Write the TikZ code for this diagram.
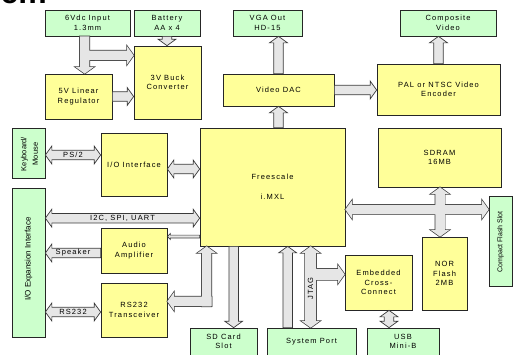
\documentclass[tikz,border=0pt]{standalone}
\usepackage{fontspec}
\setmainfont{Liberation Sans}
\newfontfamily\lsp[LetterSpace=15]{Liberation Sans}
\usetikzlibrary{calc}
\definecolor{cyel}{HTML}{FFFF99}
\definecolor{cgrn}{HTML}{CCFFCC}
\definecolor{af}{HTML}{E6E6E6}
\definecolor{ac}{HTML}{3A3A3A}
\newcommand\SW{4.75pt}
\newcommand\HW{9pt}
\newcommand\HL{6.5pt}
% single block arrow: style, from, to
\newcommand\sarr[3]{%
 \coordinate (sa) at (#2); \coordinate (sb) at (#3);
 \coordinate (shb) at ($(sb)!\HL!(sa)$);
 \path[#1] ($(sa)!\SW!90:(sb)$) -- ($(shb)!\SW!90:(sb)$) -- ($(shb)!\HW!90:(sb)$) -- (sb)
   -- ($(shb)!\HW!-90:(sb)$) -- ($(shb)!\SW!-90:(sb)$) -- ($(sa)!\SW!-90:(sb)$) -- cycle;}
% double block arrow
\newcommand\darr[3]{%
 \coordinate (sa) at (#2); \coordinate (sb) at (#3);
 \coordinate (sha) at ($(sa)!\HL!(sb)$);
 \coordinate (shb) at ($(sb)!\HL!(sa)$);
 \path[#1] (sa) -- ($(sha)!\HW!90:(sb)$) -- ($(sha)!\SW!90:(sb)$) -- ($(shb)!\SW!90:(sb)$)
   -- ($(shb)!\HW!90:(sb)$) -- (sb) -- ($(shb)!\HW!-90:(sb)$) -- ($(shb)!\SW!-90:(sb)$)
   -- ($(sha)!\SW!-90:(sb)$) -- ($(sha)!\HW!-90:(sb)$) -- cycle;}
\tikzset{
 box/.style={draw=black!85, line width=0.7pt, inner sep=0pt, align=center,
   font=\lsp\fontsize{7.5}{9.5}\selectfont},
 ybox/.style={box, fill=cyel},
 gbox/.style={box, fill=cgrn},
 sz/.style 2 args={minimum width=#1pt, minimum height=#2pt},
 arr/.style={draw=ac, fill=af, line width=0.7pt, line join=miter},
 under/.style={draw=ac, line width=1.4pt, line join=miter},
 over/.style={fill=af},
 lbl/.style={inner sep=0pt, font=\lsp\fontsize{7.5}{9.5}\selectfont},
 rlbl/.style={inner sep=0pt, rotate=90, align=center}
}
\begin{document}
\begin{tikzpicture}[x=1pt,y=-1pt]
\clip (0,0) rectangle (513,354);
\node[anchor=base east, inner sep=0pt, font=\fontsize{32}{32}\selectfont\bfseries] (ttl) at (47,3.6) {em};

% boxes
\node[gbox, sz={85}{26}] (in6) at (87.5,23) {6Vdc Input\\1.3mm};
\node[gbox, sz={66}{26}] (bat) at (167,23) {Battery\\AA x 4};
\node[ybox, sz={67}{73}] (buck) at (167.5,82.5) {3V Buck\\Converter};
\node[ybox, sz={67}{45}] (reg) at (78.5,96.5) {5V Linear\\Regulator};
\node[ybox, sz={111}{32}] (dac) at (278.5,90) {Video DAC};
\node[gbox, sz={69}{26}] (vga) at (267.5,23) {VGA Out\\HD-15};
\node[gbox, sz={96}{26}] (comp) at (448,23) {Composite\\Video};
\node[ybox, sz={123}{51}] (pal) at (438.5,89.5) {PAL or NTSC Video\\Encoder};
\node[gbox, sz={33}{50}] (kbd) at (28.5,153) {};
\node[rlbl, font=\fontsize{7.5}{11.5}\selectfont] at (29.5,154) {Keyboard/\\Mouse};
\node[ybox, sz={66}{63}] (io) at (134,164.5) {I/O Interface};
\node[ybox, sz={145}{118}] (fs) at (272.5,187) {Freescale\\[10.5pt]i.MXL};
\node[ybox, sz={123}{59}] (sdram) at (439.5,157.5) {SDRAM\\16MB};
\node[gbox, sz={33}{149}] (exp) at (28.5,262.5) {};
\node[rlbl, font=\fontsize{8}{9.5}\selectfont] at (28.5,259) {I/O Expansion Interface};
\node[ybox, sz={66}{45}] (aud) at (134,250.5) {Audio\\Amplifier};
\node[ybox, sz={66}{54}] (rs) at (134,310) {RS232\\Transceiver};
\node[gbox, sz={67}{27}] (sd) at (223.5,341.5) {SD Card\\Slot};
\node[gbox, sz={89}{27}] (sys) at (311.5,341.5) {System Port};
\node[gbox, sz={72}{27}] (usb) at (403,341.5) {USB\\Mini-B};
\node[ybox, sz={67}{55}] (ecc) at (378.5,282.5) {Embedded\\Cross-\\Connect};
\node[ybox, sz={45}{73}] (nor) at (444.5,273.5) {NOR\\Flash\\2MB};
\node[gbox, sz={23}{90}] (cf) at (500.5,241) {};
\node[rlbl, font=\fontsize{7}{9}\selectfont] at (500.5,242) {Compact Flash Slot};

% coordinates
\coordinate (p1) at ($(in6.south west)+(40,0)$);
\coordinate (p4) at (p1 |- reg.north);
\coordinate (p2) at ($(p1)+(0,19)$);
\coordinate (p3) at (buck.west |- p2);
\coordinate (k1) at ($(kbd.east)+(0,2)$);
\coordinate (k2) at (io.west |- k1);
\coordinate (i1) at ($(io.east)+(0,4.5)$);
\coordinate (i2) at (fs.west |- i1);
\coordinate (u1) at ($(exp.north east)+(0,30.5)$);
\coordinate (u2) at (fs.west |- u1);
\coordinate (t1) at ($(aud.east)+(0,-14)$);
\coordinate (t2) at (fs.west |- t1);
\coordinate (s1) at ($(aud.west)+(0,2.5)$);
\coordinate (s2) at (exp.east |- s1);
\coordinate (r1) at ($(rs.west)+(0,2)$);
\coordinate (r2) at (exp.east |- r1);
\coordinate (e1) at ($(fs.south west)+(7,60)$);
\coordinate (e0) at (e1 |- fs.south);
\coordinate (e2) at ($(e1)+(5,-5)$);
\coordinate (e3) at (rs.east |- e2);
\coordinate (d1) at ($(fs.south west)+(34,0)$);
\coordinate (d2) at (d1 |- sd.north);
\coordinate (y1) at ($(fs.south west)+(88,0)$);
\coordinate (y2) at (y1 |- sys.north);
\coordinate (j1) at ($(fs.south west)+(111,0)$);
\coordinate (j2) at (j1 |- sys.north);
\coordinate (j3) at ($(j1)+(0,28)$);
\coordinate (j4) at (ecc.west |- j3);
\coordinate (c1) at ($(ecc.south)+(10.5,0)$);
\coordinate (c2) at (c1 |- usb.north);
\coordinate (bh1) at ($(fs.east)+(0,22.5)$);
\coordinate (bh2) at (cf.west |- bh1);
\coordinate (bv1) at ($(sdram.south)+(0.5,0)$);
\coordinate (bv2) at (bv1 |- nor.north);

% power
\sarr{under}{p1}{p4}\sarr{under}{p2}{p3}
\sarr{over}{p1}{p4}\sarr{over}{p2}{p3}
\sarr{arr}{bat.south}{bat.south |- buck.north}
\sarr{arr}{reg.east}{reg.east -| buck.west}
% video
\sarr{arr}{dac.north}{dac.north |- vga.south}
\sarr{arr}{dac.east}{dac.east -| pal.west}
\sarr{arr}{pal.north}{pal.north |- comp.south}
\sarr{arr}{dac.south |- fs.north}{dac.south}
% left side
\darr{arr}{k1}{k2}
\darr{arr}{i1}{i2}
\darr{arr}{u1}{u2}
\begingroup
\renewcommand\SW{1.4pt}\renewcommand\HW{3pt}\renewcommand\HL{3pt}
\sarr{arr}{t2}{t1}
\endgroup
\sarr{arr}{s1}{s2}
\darr{arr}{r1}{r2}
\sarr{under}{e1}{e0}\sarr{under}{e2}{e3}
\sarr{over}{e1}{e0}\sarr{over}{e2}{e3}
% bottom
\sarr{arr}{d1}{d2}
\sarr{arr}{y2}{y1}
\begingroup
\renewcommand\SW{5.5pt}
\darr{under}{j1}{j2}\sarr{under}{j3}{j4}
\darr{over}{j1}{j2}\sarr{over}{j3}{j4}
\endgroup
\darr{arr}{c1}{c2}
% memory bus
\darr{under}{bh1}{bh2}\darr{under}{bv1}{bv2}
\darr{over}{bh1}{bh2}\darr{over}{bv1}{bv2}

% labels
\node[lbl] at ($(k1)!0.5!(k2)$) {PS/2};
\node[lbl] at ($(u1)!0.5!(u2)$) {I2C, SPI, UART};
\node[lbl] at ($(s1)!0.5!(s2)$) {Speaker};
\node[lbl] at ($(r1)!0.5!(r2)$) {RS232};
\node[lbl, rotate=90] at ($(j1)+(0,42)$) {JTAG};
\end{tikzpicture}
\end{document}
